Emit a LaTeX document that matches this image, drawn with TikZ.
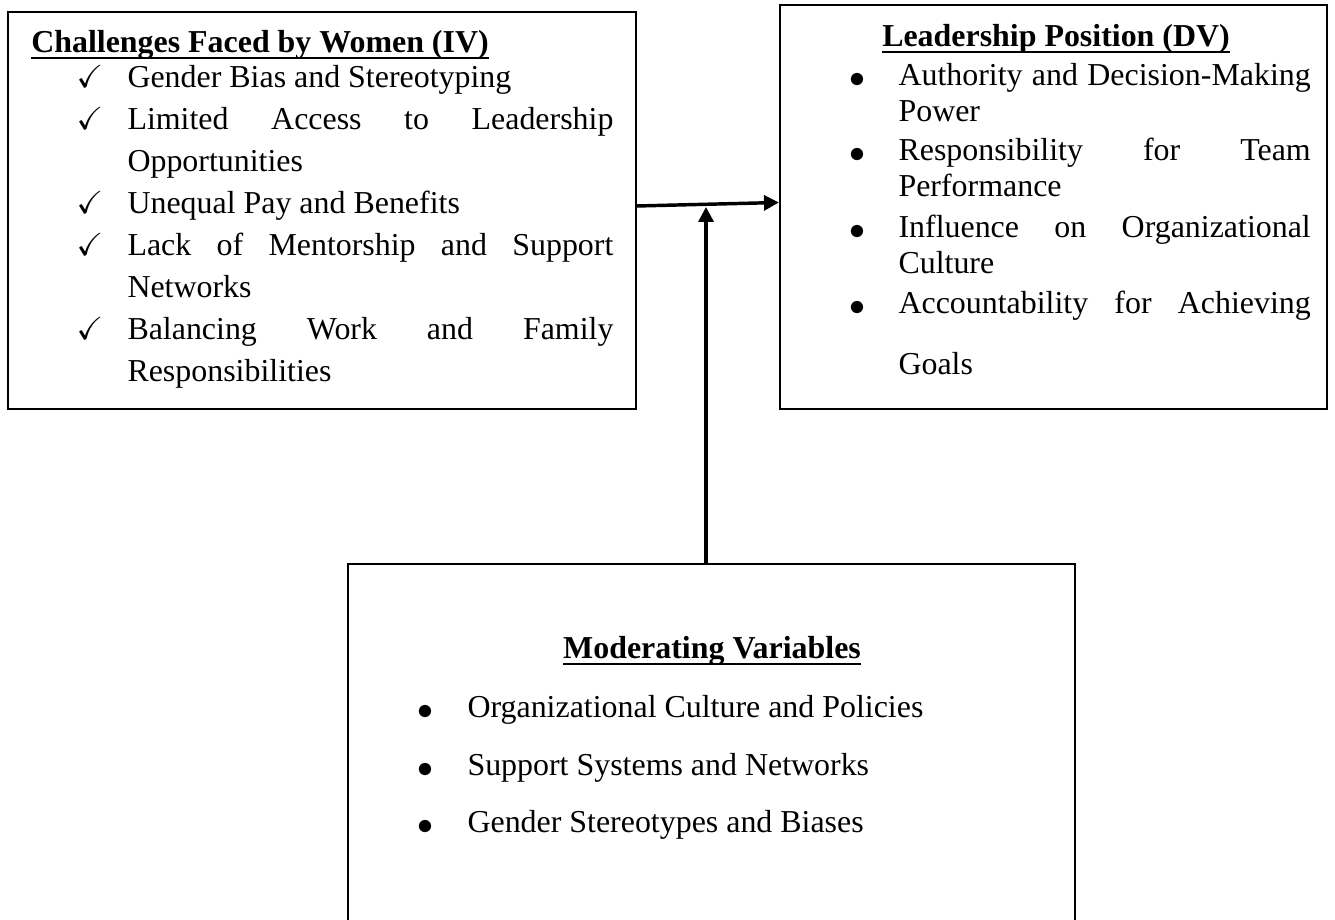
\documentclass[tikz,border=0pt]{standalone}
\usepackage{amssymb}
\usepackage{fontspec}
\setmainfont{Liberation Serif}
\usetikzlibrary{arrows.meta}
\usetikzlibrary{fit}
\tolerance=10000 \hbadness=10000
\hyphenpenalty=10000 \exhyphenpenalty=10000
\newcommand{\hdline}[1]{\setbox0\hbox{#1}\rlap{\rule[-2.6pt]{\wd0}{0.75pt}}\box0}
\tikzset{
    varbox/.style=
    { % Frame of each group of variables
        draw,
        line width=0.85pt,
        inner sep=0pt
    },
    heading/.style={anchor=base, inner sep=0pt, font=\fontsize{12}{14}\selectfont\bfseries},
    tick/.style={anchor=base, inner sep=0pt, font=\fontsize{12}{14}\selectfont},
    dot/.style={tick, yshift=-1pt}, % bullets sit a little lower
    ivitem/.style={anchor=base west, inner sep=0pt, text width=182.7pt, align=justify,
        font=\fontsize{12}{15.8}\selectfont},
    dvitem/.style={anchor=base west, inner sep=0pt, text width=155pt, align=justify,
        font=\fontsize{12}{13.7}\selectfont},
    mvitem/.style={anchor=base west, inner sep=0pt, font=\fontsize{12}{14}\selectfont},
    link/.style={ % Arrows between the boxes
        draw,
        -{Triangle[length=5.6pt,width=5.6pt]},
        line width=1.3pt
    }
}

\begin{document}
\begin{tikzpicture}[x=0.376pt,y=-0.376pt]
\useasboundingbox (0,0) rectangle (1335,919);
\node [varbox,fit={(8,12) (636,409)}]     (iv) {};
\node [varbox,fit={(780,5) (1327,409)}]   (dv) {};
\node [varbox,fit={(348,564) (1075,960)}] (mv) {};
%%%%%%%%%%%%%%%%%%%%%%%%%%%%%%%%%%
\node [heading] (ivhead) at (260,52) {\hdline{Challenges Faced by Women (IV)}};
\node [tick] (t1) at (90,87)  {$\checkmark$};
\node [tick] (t2) at (90,129) {$\checkmark$};
\node [tick] (t3) at (90,213) {$\checkmark$};
\node [tick] (t4) at (90,255) {$\checkmark$};
\node [tick] (t5) at (90,339) {$\checkmark$};
\node [ivitem] (iv1) at (127,87)  {Gender Bias and Stereotyping};
\node [ivitem] (iv2) at (127,129) {Limited Access to Leadership\linebreak Opportunities};
\node [ivitem] (iv3) at (127,213) {Unequal Pay and Benefits};
\node [ivitem] (iv4) at (127,255) {Lack of Mentorship and Support\linebreak Networks};
\node [ivitem] (iv5) at (127,339) {Balancing Work and Family\linebreak Responsibilities};
%%%%%%%%%%%%%%%%%%%%%%%%%%%%%%%%%%
\node [heading] (dvhead) at (1056,46) {\hdline{Leadership Position (DV)}};
\node [dot] (b1) at (857,85)  {$\bullet$};
\node [dot] (b2) at (857,160) {$\bullet$};
\node [dot] (b3) at (857,237) {$\bullet$};
\node [dot] (b4) at (857,313) {$\bullet$};
\node [dvitem] (dv1) at (898,85)  {Authority and Decision-Making\linebreak Power};
\node [dvitem] (dv2) at (898,160) {Responsibility for Team\linebreak Performance};
\node [dvitem] (dv3) at (898,237) {Influence on Organizational\linebreak Culture};
\node [dvitem] (dv4) at (898,313) {Accountability for Achieving\linebreak\rule{0pt}{19.7pt}Goals};
%%%%%%%%%%%%%%%%%%%%%%%%%%%%%%%%%%
\node [heading] (mvhead) at (712,658) {\hdline{Moderating Variables}};
\node [dot] (m1) at (425,717) {$\bullet$};
\node [dot] (m2) at (425,775) {$\bullet$};
\node [dot] (m3) at (425,832) {$\bullet$};
\node [mvitem] (mv1) at (467,717) {Organizational Culture and Policies};
\node [mvitem] (mv2) at (467,775) {Support Systems and Networks};
\node [mvitem] (mv3) at (467,832) {Gender Stereotypes and Biases};

\coordinate (meet) at (706,207);

\draw [link] ([yshift=1.7pt]iv.east) -- ([yshift=1.7pt]dv.west);
\draw [link] (meet |- mv.north) -- (meet);
\end{tikzpicture}
\end{document}
